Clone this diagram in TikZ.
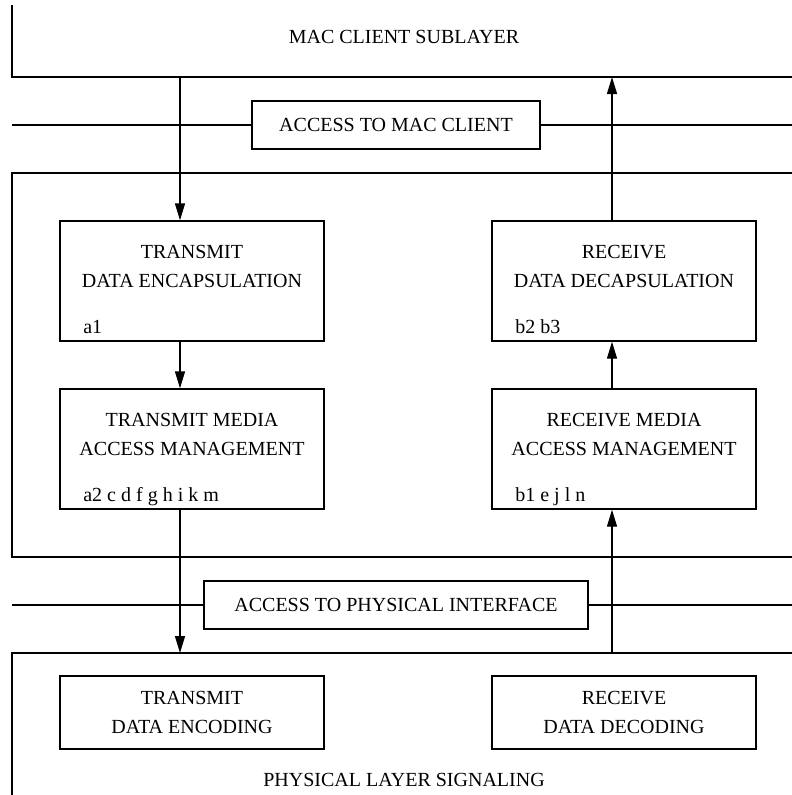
\documentclass[tikz,border=0pt]{standalone}
\usepackage{fontspec}
\setmainfont{Liberation Serif}
\usetikzlibrary{arrows.meta}

\begin{document}
\begin{tikzpicture}[x=1pt,y=-1pt,line width=1.4pt,
  font=\fontsize{20}{29}\selectfont,
  fbox/.style={draw,minimum width=264pt,minimum height=120pt,inner sep=0pt},
  iface/.style={draw,minimum height=48pt,inner sep=0pt},
  title/.style={align=center,yshift=-46.5pt},
  tag/.style={anchor=base west,xshift=20pt,yshift=8pt},
  flow/.style={-{Triangle[length=17pt,width=10pt]}}]
  \useasboundingbox (0,0) rectangle (792,795);
  % layers
  \draw (12,5) |- (792,77);
  \draw (792,173) -| (12,557) -- (792,557);
  \draw (792,653) -| (12,795);
  \node (mac) at (404,37) {MAC CLIENT SUBLAYER};
  \node (phy) at (404,780) {PHYSICAL LAYER SIGNALING};
  \coordinate (macl) at (180,77);
  \coordinate (macr) at (612,77);
  \coordinate (phyl) at (180,653);
  \coordinate (phyr) at (612,653);
  % service interfaces
  \node[iface,minimum width=288pt] (macsap) at (396,125) {ACCESS TO MAC CLIENT};
  \node[iface,minimum width=384pt] (physap) at (396,605) {ACCESS TO PHYSICAL INTERFACE};
  \draw (12,125) -- (macsap.west) (macsap.east) -- (792,125);
  \draw (12,605) -- (physap.west) (physap.east) -- (792,605);
  % MAC functions
  \node[fbox] (txenc) at (192,281) {};
  \node[fbox] (rxdec) at (624,281) {};
  \node[fbox] (txmed) at (192,449) {};
  \node[fbox] (rxmed) at (624,449) {};
  \node[title] at (txenc.north) {TRANSMIT\\DATA ENCAPSULATION};
  \node[title] at (rxdec.north) {RECEIVE\\DATA DECAPSULATION};
  \node[title] at (txmed.north) {TRANSMIT MEDIA\\ACCESS MANAGEMENT};
  \node[title] at (rxmed.north) {RECEIVE MEDIA\\ACCESS MANAGEMENT};
  \node[tag] at (txenc.south west) {a1};
  \node[tag] at (rxdec.south west) {b2 b3};
  \node[tag] at (txmed.south west) {a2 c d f g h i k m};
  \node[tag] at (rxmed.south west) {b1 e j l n};
  % PLS functions
  \node[fbox,minimum height=73pt,align=center] (txcod) at (192,712.5)
    {TRANSMIT\\DATA ENCODING};
  \node[fbox,minimum height=73pt,align=center] (rxcod) at (624,712.5)
    {RECEIVE\\DATA DECODING};
  % data flow
  \draw[flow] (macl) -- ([xshift=-12pt]txenc.north);
  \draw[flow] ([xshift=-12pt]txenc.south) -- ([xshift=-12pt]txmed.north);
  \draw[flow] ([xshift=-12pt]txmed.south) -- (phyl);
  \draw[flow] (phyr) -- ([xshift=-12pt]rxmed.south);
  \draw[flow] ([xshift=-12pt]rxmed.north) -- ([xshift=-12pt]rxdec.south);
  \draw[flow] ([xshift=-12pt]rxdec.north) -- (macr);
\end{tikzpicture}
\end{document}
